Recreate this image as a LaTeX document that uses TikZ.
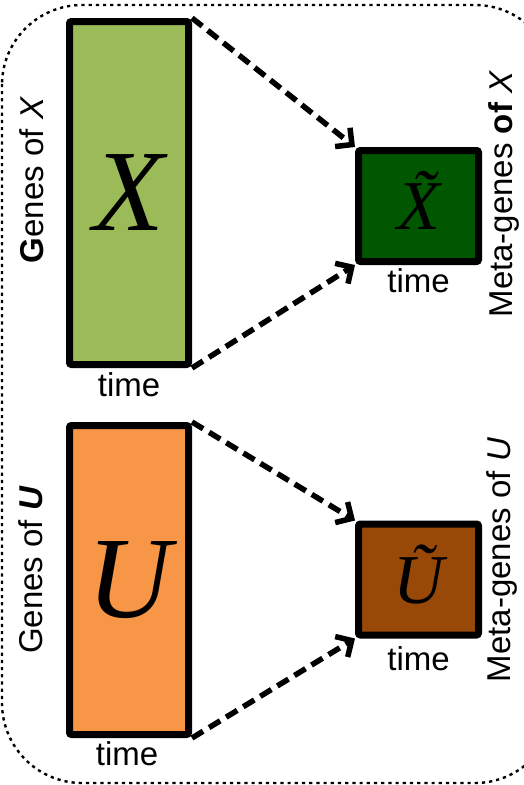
\documentclass[tikz,border=0pt]{standalone}
\usepackage{fontspec}
\setmainfont{Liberation Sans}
\newfontfamily\lettre{Liberation Serif}
\usetikzlibrary{arrows.meta}

\definecolor{vertclair}{HTML}{9BBB59}
\definecolor{vertfonce}{HTML}{005700}
\definecolor{orange}{HTML}{F79646}
\definecolor{brun}{HTML}{984807}

\begin{document}
\begin{tikzpicture}[x=1pt, y=-1pt]
% définition des styles
\tikzstyle{bloc}=[rectangle, draw=black, line width=7pt, rounded corners=2pt, inner sep=0pt]
\tikzstyle{grand}=[bloc, minimum width=119pt, font=\lettre\itshape\fontsize{116}{116}\selectfont]
\tikzstyle{petit}=[bloc, minimum width=120pt, minimum height=111pt, text height=47pt, text depth=0pt, font=\lettre\itshape\fontsize{70}{70}\selectfont]
\tikzstyle{etiquette}=[inner sep=0pt, font=\fontsize{33}{36}\selectfont]
\tikzstyle{cote}=[etiquette, rotate=90, anchor=base]
\tikzstyle{fleche}=[-{Straight Barb[length=12pt, width=24pt]}, line width=5.5pt, dash pattern=on 13pt off 7pt]
\tikzstyle{cadre}=[line width=2.4pt, dash pattern=on 0.8pt off 6.4pt, line cap=rect, rounded corners=80pt]

\useasboundingbox (0,0) rectangle (523,785);

% le cadre
\draw[cadre] (2,5) rectangle (555,783);

% les nœuds
\node[grand, fill=vertclair, minimum height=343pt] (X) at (129,193) {X};
\node[petit, fill=vertfonce] (Xt) at (418.5,206) {\~{X}};
\node[grand, fill=orange, minimum height=309pt] (U) at (129,580) {U};
\node[petit, fill=brun] (Ut) at (418.5,579.5) {\~{U}};

\node[etiquette] (tX) at (129,385) {time};
\node[etiquette] (tXt) at (418.5,281) {time};
\node[etiquette] (tU) at (127,754) {time};
\node[etiquette] (tUt) at (418.5,659) {time};

\node[cote] (gX) at (43,180) {\textbf{G}enes of \textit{X}};
\node[cote] (mX) at (512,194) {Meta-genes \textbf{of} \textit{X}};
\node[cote] (gU) at (42,570) {Genes of \textbf{\textit{U}}};
\node[cote] (mU) at (510,560) {Meta-genes of \textit{U}};

% les flèches
\draw[fleche] (X.north east)--(Xt.north west);
\draw[fleche] (X.south east)--(Xt.south west);
\draw[fleche] (U.north east)--(Ut.north west);
\draw[fleche] (U.south east)--(Ut.south west);
\end{tikzpicture}
\end{document}
